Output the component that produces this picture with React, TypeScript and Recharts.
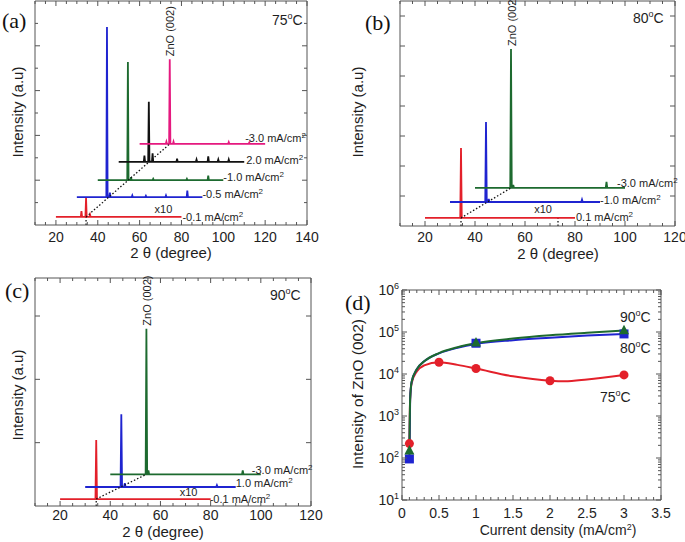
import React from "react";
import {
  ComposedChart,
  Line,
  Scatter,
  XAxis,
  YAxis,
  ReferenceLine,
  ReferenceDot,
} from "recharts";

const SANS = '"Liberation Sans", Arial, Helvetica, sans-serif';
const SERIF = '"Liberation Serif", "Times New Roman", serif';
const INK = "#1e1e1e";
const EDGE = "#555";
const RED = "#e3202a";
const BLUE = "#1f24d0";
const GREEN = "#1d6a2f";
const PINK = "#e5197f";
const BLACK = "#111";

// XRD traces: span = [2θ from, 2θ to, vertical offset], peaks = [2θ, height]
// (a) 75 °C
const a01Span = [20, 80, 0.18];
const a01Peaks = [[32.2, 0.31], [34.4, 0.6], [36.3, 0.23]];
const a05Span = [30, 90, 0.62];
const a05Peaks = [[44.4, 4.42], [45.8, 0.72], [56.5, 0.66], [63, 0.65], [72.6, 0.66], [82.8, 0.77]];
const a10Span = [40, 100, 1.0];
const a10Peaks = [[54.4, 3.64], [55.9, 1.07], [66.5, 1.03], [82.6, 1.03], [92.8, 1.1]];
const a20Span = [50, 110, 1.41];
const a20Peaks = [[62.3, 1.55], [64.4, 2.75], [66.2, 1.6], [77.9, 1.48], [87.2, 1.46], [92.8, 1.53], [97.6, 1.46], [102.6, 1.46]];
const a30Span = [60, 120, 1.81];
const a30Peaks = [[72.8, 1.86], [74.4, 3.7], [76.2, 1.86], [102.6, 1.85], [112.4, 1.84]];
const aGuide = [[34.4, 0.18], [74.4, 1.81]];
const aDrops = [[34.4, 0.18]];

// (b) 80 °C
const b01Span = [20, 80, 0.27];
const b01Peaks = [[34.4, 2.6]];
const b10Span = [30, 90, 0.8];
const b10Peaks = [[44.4, 3.47], [45.5, 0.9], [82.8, 0.88]];
const b30Span = [40, 100, 1.27];
const b30Peaks = [[54.4, 5.9], [55.3, 1.37], [92.6, 1.47]];
const bGuide = [[34.4, 0.27], [54.4, 1.27]];
const bDrops = [[34.4, 0.27], [73.2, 0.27]];

// (c) 90 °C
const c01Span = [20, 80, 0.11];
const c01Peaks = [[34.4, 1.04]];
const c10Span = [30, 90, 0.3];
const c10Peaks = [[44.4, 1.45], [45.8, 0.36], [82.5, 0.33]];
const c30Span = [40, 100, 0.5];
const c30Peaks = [[54.4, 2.8], [55.2, 0.56], [92.8, 0.56]];
const cGuide = [[34.4, 0.11], [54.4, 0.5]];
const cDrops = [[34.4, 0.11]];

// (d) intensity of ZnO (002) vs current density
const cd75 = [0.1, 0.5, 1, 2, 3];
const int75 = [220, 19000, 13500, 6900, 9500];
const cd80 = [0.1, 1, 3];
const int80 = [95, 54000, 90000];
const cd90 = [0.1, 1, 3];
const int90 = [150, 56000, 110000];
const fitCd75 = [0.1, 0.11, 0.13, 0.2, 0.3, 0.5, 0.75, 1, 1.5, 2, 2.2, 2.5, 3];
const fit75 = [220, 2500, 6000, 11500, 16000, 19000, 16500, 13500, 8800, 6900, 6700, 7400, 9500];
const fitCd = [0.1, 0.11, 0.13, 0.2, 0.3, 0.5, 0.75, 1, 1.5, 2, 2.5, 3];
const fit80 = [95, 2500, 6500, 13000, 20000, 31000, 42000, 52000, 64000, 73000, 82000, 90000];
const fit90 = [150, 2500, 6500, 13000, 20000, 31500, 43500, 54000, 70000, 84000, 96000, 108000];

const xLabels2t = [20, 40, 60, 80, 100, 120, 140];
const cdLabels = [0, 0.5, 1, 1.5, 2, 2.5, 3, 3.5];
const logLabels = [10, 100, 1000, 10000, 100000, 1000000];

const range = (a: number, b: number, s: number) => {
  const out: number[] = [];
  for (let v = a; v <= b + 1e-9; v += s) out.push(Math.round(v * 1000) / 1000);
  return out;
};
const pairs = (a: number[][]) => a.map(([x, y]) => ({ x, y }));
const zip = (xs: number[], ys: number[]) => xs.map((x, i) => ({ x, y: ys[i] }));

function trace(span: number[], peaks: number[][]) {
  const [from, to, base] = span;
  const pts = [{ x: from, y: base }];
  peaks.forEach(([x, y]) => {
    pts.push({ x: x - 0.3, y: base }, { x, y }, { x: x + 0.3, y: base });
  });
  pts.push({ x: to, y: base });
  return pts;
}

const Sup2 = () => (
  <tspan dy={-4} fontSize={8}>
    2
  </tspan>
);

type Trace = {
  span: number[];
  peaks: number[][];
  color: string;
  tag: string;
  dx: number;
  dy: number;
};

type SpecProps = {
  w: number;
  h: number;
  top: number;
  right: number;
  yw: number;
  xh: number;
  gap: number;
  xMax: number;
  yMax: number;
  yTicks: number[];
  traces: Trace[];
  guide: number[][];
  drops: number[][];
  zno: number[];
  x10: number[];
};

function SpectrumPanel(p: SpecProps) {
  const L = p.yw;
  const R = p.w - p.right;
  const T = p.top;
  const B = p.h - p.xh;
  const xTicks = range(10, p.xMax, 5);

  const xTick = (t: any) => {
    const v = t.payload.value;
    const major = xLabels2t.includes(v);
    const len = major ? 5 : 3;
    return (
      <g>
        <line x1={t.x} x2={t.x} y1={B} y2={B - len} stroke={EDGE} />
        <line x1={t.x} x2={t.x} y1={T} y2={T + len} stroke={EDGE} />
        {major && (
          <text x={t.x} y={B + p.gap} textAnchor="middle" fontSize={14} fill={INK} fontFamily={SANS}>
            {v}
          </text>
        )}
      </g>
    );
  };
  const yTick = (t: any) => {
    const v = t.payload.value;
    const len = Number.isInteger(v) ? 5 : 3;
    return (
      <g>
        <line x1={L} x2={L + len} y1={t.y} y2={t.y} stroke={EDGE} />
        <line x1={R} x2={R - len} y1={t.y} y2={t.y} stroke={EDGE} />
      </g>
    );
  };

  return (
    <ComposedChart width={p.w} height={p.h} margin={{ top: p.top, right: p.right, bottom: 0, left: 0 }}>
      <XAxis
        dataKey="x"
        type="number"
        domain={[10, p.xMax]}
        ticks={xTicks}
        interval={0}
        allowDataOverflow
        tickLine={false}
        axisLine={{ stroke: EDGE }}
        height={p.xh}
        tick={xTick}
      />
      <YAxis
        dataKey="y"
        type="number"
        domain={[0, p.yMax]}
        ticks={p.yTicks}
        interval={0}
        allowDataOverflow
        tickLine={false}
        axisLine={{ stroke: EDGE }}
        width={p.yw}
        tick={yTick}
      />
      <ReferenceLine x={p.xMax} stroke={EDGE} />
      <ReferenceLine y={p.yMax} stroke={EDGE} />
      {p.drops.map(([x, y], i) => (
        <Line
          key={"d" + i}
          data={[{ x, y: 0 }, { x, y }]}
          dataKey="y"
          type="linear"
          stroke={BLACK}
          strokeWidth={1.3}
          strokeDasharray="1.5 2"
          dot={false}
          isAnimationActive={false}
        />
      ))}
      {p.traces.map((t, i) => (
        <Line
          key={"t" + i}
          data={trace(t.span, t.peaks)}
          dataKey="y"
          type="linear"
          stroke={t.color}
          strokeWidth={1.8}
          dot={false}
          isAnimationActive={false}
        />
      ))}
      <Line
        data={pairs(p.guide)}
        dataKey="y"
        type="linear"
        stroke={BLACK}
        strokeWidth={1.3}
        strokeDasharray="1.5 2"
        dot={false}
        isAnimationActive={false}
      />
      {p.traces.map((t, i) => (
        <ReferenceDot
          key={"l" + i}
          x={t.span[1]}
          y={t.span[2]}
          r={0}
          ifOverflow="visible"
          shape={(s: any) => (
            <text x={s.cx + t.dx} y={s.cy + 4 + t.dy} fontSize={11} fill={INK} fontFamily={SANS}>
              {t.tag}
              <Sup2 />
            </text>
          )}
        />
      ))}
      <ReferenceDot
        x={p.traces[0].span[1]}
        y={p.traces[0].span[2]}
        r={0}
        ifOverflow="visible"
        shape={(s: any) => (
          <text x={s.cx + p.x10[0]} y={s.cy + p.x10[1]} textAnchor="middle" fontSize={11} fill={INK} fontFamily={SANS}>
            x10
          </text>
        )}
      />
      <ReferenceDot
        x={p.zno[0]}
        y={p.zno[1]}
        r={0}
        ifOverflow="visible"
        shape={(s: any) => (
          <text
            transform={`translate(${s.cx + 4.5},${s.cy - 3}) rotate(-90)`}
            fontSize={11}
            fill={INK}
            fontFamily={SANS}
          >
            ZnO (002)
          </text>
        )}
      />
    </ComposedChart>
  );
}

function IntensityPanel() {
  const w = 345;
  const h = 272;
  const top = 20;
  const right = 24;
  const yw = 62;
  const xh = 42;
  const L = yw;
  const R = w - right;
  const T = top;
  const B = h - xh;
  const cdTicks = range(0, 3.5, 0.1);
  const logTicks: number[] = [];
  logLabels.forEach((d, i) => {
    logTicks.push(d);
    if (i < logLabels.length - 1) for (let k = 2; k <= 9; k++) logTicks.push(d * k);
  });

  const xTick = (t: any) => {
    const v = t.payload.value;
    const major = cdLabels.some((m) => Math.abs(m - v) < 1e-6);
    const len = major ? 5 : 3;
    return (
      <g>
        <line x1={t.x} x2={t.x} y1={B} y2={B - len} stroke={EDGE} />
        <line x1={t.x} x2={t.x} y1={T} y2={T + len} stroke={EDGE} />
        {major && (
          <text x={t.x} y={B + 18} textAnchor="middle" fontSize={14} fill={INK} fontFamily={SANS}>
            {String(v)}
          </text>
        )}
      </g>
    );
  };
  const yTick = (t: any) => {
    const v = t.payload.value;
    const e = Math.round(Math.log10(v));
    const major = logLabels.includes(v);
    const len = major ? 5 : 3;
    return (
      <g>
        <line x1={L} x2={L + len} y1={t.y} y2={t.y} stroke={EDGE} />
        <line x1={R} x2={R - len} y1={t.y} y2={t.y} stroke={EDGE} />
        {major && (
          <text x={L - 3} y={t.y + 5} textAnchor="end" fontSize={14} fill={INK} fontFamily={SANS}>
            10
            <tspan dy={-6} fontSize={9}>
              {e}
            </tspan>
          </text>
        )}
      </g>
    );
  };

  const circle = (s: any) => <circle cx={s.cx} cy={s.cy} r={4.5} fill={RED} />;
  const square = (s: any) => <rect x={s.cx - 4.5} y={s.cy - 4.5} width={9} height={9} fill={BLUE} />;
  const tri = (s: any) => (
    <polygon
      points={`${s.cx},${s.cy - 5.5} ${s.cx - 5},${s.cy + 4} ${s.cx + 5},${s.cy + 4}`}
      fill={GREEN}
    />
  );

  return (
    <ComposedChart width={w} height={h} margin={{ top, right, bottom: 0, left: 0 }}>
      <XAxis
        dataKey="x"
        type="number"
        domain={[0, 3.5]}
        ticks={cdTicks}
        interval={0}
        allowDataOverflow
        tickLine={false}
        axisLine={{ stroke: EDGE }}
        height={xh}
        tick={xTick}
      />
      <YAxis
        dataKey="y"
        type="number"
        scale="log"
        domain={[10, 1000000]}
        ticks={logTicks}
        interval={0}
        allowDataOverflow
        tickLine={false}
        axisLine={{ stroke: EDGE }}
        width={yw}
        tick={yTick}
      />
      <ReferenceLine x={3.5} stroke={EDGE} />
      <ReferenceLine y={1000000} stroke={EDGE} />
      <Line data={zip(fitCd75, fit75)} dataKey="y" type="monotone" stroke={RED} strokeWidth={2} dot={false} isAnimationActive={false} />
      <Line data={zip(fitCd, fit80)} dataKey="y" type="monotone" stroke={BLUE} strokeWidth={2} dot={false} isAnimationActive={false} />
      <Line data={zip(fitCd, fit90)} dataKey="y" type="monotone" stroke={GREEN} strokeWidth={2} dot={false} isAnimationActive={false} />
      <Scatter data={zip(cd75, int75)} dataKey="y" shape={circle} isAnimationActive={false} />
      <Scatter data={zip(cd80, int80)} dataKey="y" shape={square} isAnimationActive={false} />
      <Scatter data={zip(cd90, int90)} dataKey="y" shape={tri} isAnimationActive={false} />
    </ComposedChart>
  );
}

const Deg = ({ x, y, t }: { x: number; y: number; t: string }) => (
  <text x={x} y={y} fontSize={14} fill={INK} fontFamily={SANS}>
    {t}
    <tspan dy={-6} fontSize={9}>
      o
    </tspan>
    <tspan dy={6}>C</tspan>
  </text>
);

const Letter = ({ x, y, t }: { x: number; y: number; t: string }) => (
  <text x={x} y={y} fontSize={22} fill="#111" fontFamily={SERIF}>
    {t}
  </text>
);

const VTitle = ({ x, y, t }: { x: number; y: number; t: string }) => (
  <text
    transform={`translate(${x},${y}) rotate(-90)`}
    textAnchor="middle"
    fontSize={15}
    fill={INK}
    fontFamily={SANS}
  >
    {t}
  </text>
);

const TwoTheta = ({ x, y }: { x: number; y: number }) => (
  <text x={x} y={y} textAnchor="middle" fontSize={15} fill={INK} fontFamily={SANS}>
    2 θ (degree)
  </text>
);

export default function App() {
  return (
    <div style={{ position: "absolute", left: 0, top: 0, width: 685, height: 542, background: "#fff" }}>
      <div style={{ position: "absolute", left: 0, top: 0 }}>
        <SpectrumPanel
          w={340}
          h={270}
          top={1}
          right={33}
          yw={35}
          xh={45}
          gap={17}
          xMax={140}
          yMax={5}
          yTicks={range(0.5, 4.5, 0.5)}
          traces={[
            { span: a01Span, peaks: a01Peaks, color: RED, tag: "-0.1 mA/cm", dx: 1, dy: 0 },
            { span: a05Span, peaks: a05Peaks, color: BLUE, tag: "-0.5 mA/cm", dx: 0, dy: -3 },
            { span: a10Span, peaks: a10Peaks, color: GREEN, tag: "-1.0 mA/cm", dx: 0, dy: -3 },
            { span: a20Span, peaks: a20Peaks, color: BLACK, tag: "2.0 mA/cm", dx: 2, dy: -2 },
            { span: a30Span, peaks: a30Peaks, color: PINK, tag: "-3.0 mA/cm", dx: -20, dy: -6 },
          ]}
          guide={aGuide}
          drops={aDrops}
          zno={[74.4, 3.7]}
          x10={[-18, -4]}
        />
      </div>
      <div style={{ position: "absolute", left: 340, top: 0 }}>
        <SpectrumPanel
          w={345}
          h={270}
          top={1}
          right={10}
          yw={60}
          xh={44}
          gap={16}
          xMax={120}
          yMax={7.5}
          yTicks={range(1, 7, 1)}
          traces={[
            { span: b01Span, peaks: b01Peaks, color: RED, tag: "0.1 mA/cm", dx: 1, dy: -1 },
            { span: b10Span, peaks: b10Peaks, color: BLUE, tag: "-1.0 mA/cm", dx: 0, dy: -2 },
            { span: b30Span, peaks: b30Peaks, color: GREEN, tag: "-3.0 mA/cm", dx: -8, dy: -5 },
          ]}
          guide={bGuide}
          drops={bDrops}
          zno={[54.4, 5.9]}
          x10={[-32, -5]}
        />
      </div>
      <div style={{ position: "absolute", left: 0, top: 270 }}>
        <SpectrumPanel
          w={340}
          h={272}
          top={8}
          right={29}
          yw={35}
          xh={36}
          gap={14}
          xMax={120}
          yMax={3.6}
          yTicks={range(1, 3, 1)}
          traces={[
            { span: c01Span, peaks: c01Peaks, color: RED, tag: "-0.1 mA/cm", dx: -1, dy: 0 },
            { span: c10Span, peaks: c10Peaks, color: BLUE, tag: "1.0 mA/cm", dx: 0, dy: -4 },
            { span: c30Span, peaks: c30Peaks, color: GREEN, tag: "-3.0 mA/cm", dx: -9, dy: -4 },
          ]}
          guide={cGuide}
          drops={cDrops}
          zno={[54.4, 2.8]}
          x10={[-22, -3]}
        />
      </div>
      <div style={{ position: "absolute", left: 340, top: 270 }}>
        <IntensityPanel />
      </div>
      <svg
        width={685}
        height={542}
        style={{ position: "absolute", left: 0, top: 0, pointerEvents: "none" }}
      >
        <Letter x={2} y={28} t="(a)" />
        <Letter x={365} y={30} t="(b)" />
        <Letter x={5} y={298} t="(c)" />
        <Letter x={345} y={310} t="(d)" />
        <Deg x={272} y={25} t="75" />
        <Deg x={633} y={23} t="80" />
        <Deg x={270} y={300} t="90" />
        <Deg x={620} y={322} t="90" />
        <Deg x={620} y={353} t="80" />
        <Deg x={600} y={402} t="75" />
        <VTitle x={23} y={112} t="Intensity (a.u)" />
        <VTitle x={363} y={112} t="Intensity (a.u)" />
        <VTitle x={23} y={395} t="Intensity (a.u)" />
        <text
          transform="translate(363,394) rotate(-90)"
          textAnchor="middle"
          fontSize={15.5}
          fill={INK}
          fontFamily={SANS}
        >
          Intensity of ZnO (002)
        </text>
        <TwoTheta x={171} y={258} />
        <TwoTheta x={558} y={259} />
        <TwoTheta x={163} y={537} />
        <text x={558} y={535} textAnchor="middle" fontSize={14} fill={INK} fontFamily={SANS}>
          Current density (mA/cm
          <tspan dy={-5} fontSize={9}>
            2
          </tspan>
          <tspan dy={5}>)</tspan>
        </text>
      </svg>
    </div>
  );
}
